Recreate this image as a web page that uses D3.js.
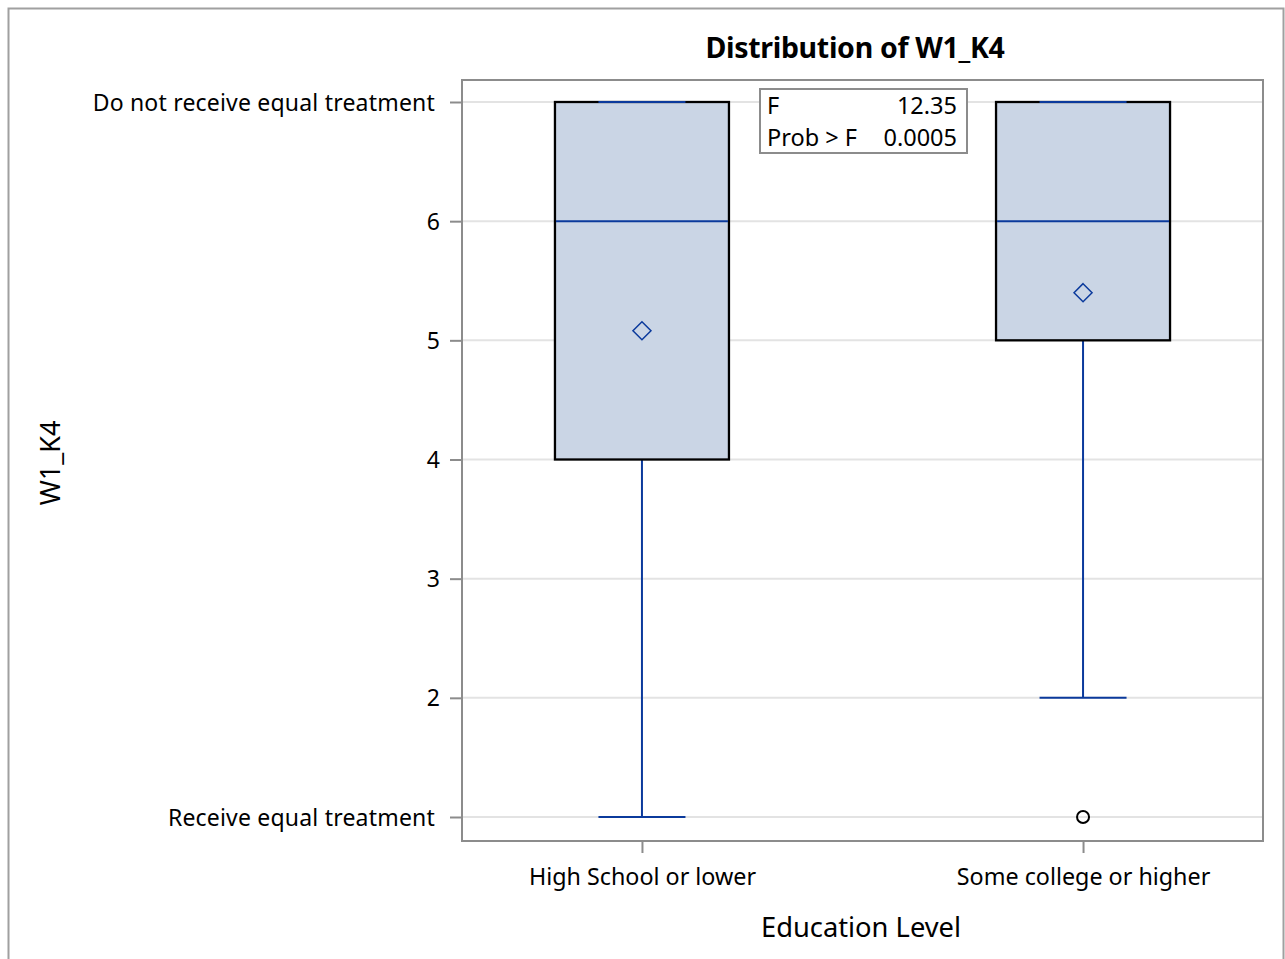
<!DOCTYPE html>
<html><head><meta charset="utf-8">
<script src="https://cdn.jsdelivr.net/npm/d3@7"></script>
<style>body{margin:0;background:#fff}svg{display:block;font-family:"Noto Sans",sans-serif}</style>
</head><body>
<svg id="c" width="1285" height="959"></svg>
<script>
const categories = ["High School or lower", "Some college or higher"];
const q1 = [4, 5];
const median = [6, 6];
const q3 = [7, 7];
const whiskerLow = [1, 2];
const whiskerHigh = [7, 7];
const means = [5.08, 5.40];
const outliers = [[], [1]];
const yTicks = [1, 2, 3, 4, 5, 6, 7];
const yTickLabels = {1: "Receive equal treatment", 7: "Do not receive equal treatment"};
const statLabels = ["F", "Prob > F"];
const statValues = ["12.35", "0.0005"];

const svg = d3.select("#c");
const L = 462, R = 1263, T = 80, B = 841;
const blue = "#0b3a9c", fill = "#cad5e5", frame = "#8c8c8c";

svg.append("rect").attr("x", 8.5).attr("y", 8.5).attr("width", 1275).attr("height", 960)
  .attr("fill", "none").attr("stroke", "#a0a0a0").attr("stroke-width", 2);

const x = d3.scalePoint().domain(categories).range([L, R]).padding(0.408);
const y = d3.scaleLinear().domain([1, 7]).range([817, 102]);

// gridlines
svg.append("g").selectAll("line").data(yTicks).join("line")
  .attr("x1", L).attr("x2", R).attr("y1", d => y(d)).attr("y2", d => y(d))
  .attr("stroke", "#e3e3e3").attr("stroke-width", 2);

const yAxis = svg.append("g").attr("transform", `translate(${L},0)`)
  .call(d3.axisLeft(y).tickValues(yTicks).tickSize(12).tickPadding(10)
    .tickFormat(d => yTickLabels[d] || d));
yAxis.select(".domain").remove();
yAxis.selectAll(".tick line").attr("stroke", frame).attr("stroke-width", 2);
yAxis.selectAll(".tick text").attr("font-size", 23).attr("fill", "#000")
  .attr("font-family", "Noto Sans").attr("dy", "0.35em")
  .attr("dx", d => yTickLabels[d] ? -5 : 0)
  .attr("letter-spacing", d => yTickLabels[d] ? 0.2 : 0);

const xAxis = svg.append("g").attr("transform", `translate(0,${B})`)
  .call(d3.axisBottom(x).tickSize(12).tickPadding(10));
xAxis.select(".domain").remove();
xAxis.selectAll(".tick line").attr("stroke", frame).attr("stroke-width", 2);
xAxis.selectAll(".tick text").attr("font-size", 23.3).attr("fill", "#000")
  .attr("font-family", "Noto Sans").attr("dy", "0.95em");

const bw = 174;
const g = svg.append("g");
categories.forEach((c, i) => {
  const cx = x(c);
  g.append("line").attr("x1", cx).attr("x2", cx).attr("y1", y(whiskerLow[i])).attr("y2", y(q1[i]))
    .attr("stroke", blue).attr("stroke-width", 2);
  g.append("line").attr("x1", cx).attr("x2", cx).attr("y1", y(whiskerHigh[i])).attr("y2", y(q3[i]))
    .attr("stroke", blue).attr("stroke-width", 2);
  g.append("rect").attr("x", cx - bw / 2).attr("y", y(q3[i])).attr("width", bw)
    .attr("height", y(q1[i]) - y(q3[i])).attr("fill", fill).attr("stroke", "#000").attr("stroke-width", 2.3);
  g.append("line").attr("x1", cx - bw / 2 + 1).attr("x2", cx + bw / 2 - 1).attr("y1", y(median[i])).attr("y2", y(median[i]))
    .attr("stroke", blue).attr("stroke-width", 2);
  [whiskerLow[i], whiskerHigh[i]].forEach(v => {
    g.append("line").attr("x1", cx - bw / 4).attr("x2", cx + bw / 4).attr("y1", y(v)).attr("y2", y(v))
      .attr("stroke", blue).attr("stroke-width", 2);
  });
  const m = y(means[i]);
  g.append("path").attr("d", `M${cx},${m - 9}L${cx + 9},${m}L${cx},${m + 9}L${cx - 9},${m}Z`)
    .attr("fill", "none").attr("stroke", blue).attr("stroke-width", 1.5);
  outliers[i].forEach(v => {
    g.append("circle").attr("cx", cx).attr("cy", y(v)).attr("r", 6)
      .attr("fill", "none").attr("stroke", "#000").attr("stroke-width", 2);
  });
});

svg.append("rect").attr("x", L).attr("y", T).attr("width", R - L).attr("height", B - T)
  .attr("fill", "none").attr("stroke", frame).attr("stroke-width", 2);

const inset = svg.append("g");
inset.append("rect").attr("x", 760).attr("y", 89).attr("width", 207).attr("height", 64)
  .attr("fill", "#fff").attr("stroke", "#8c8c8c").attr("stroke-width", 2);
statLabels.forEach((s, i) => {
  inset.append("text").attr("x", 767).attr("y", 114 + i * 32).attr("font-size", 23.5).text(s);
  inset.append("text").attr("x", 957).attr("y", 114 + i * 32).attr("font-size", 23.5)
    .attr("text-anchor", "end").text(statValues[i]);
});

svg.append("text").attr("x", 855).attr("y", 58).attr("text-anchor", "middle")
  .attr("font-size", 28.5).attr("font-weight", "bold").attr("letter-spacing", -0.3).text("Distribution of W1_K4");
svg.append("text").attr("x", 861).attr("y", 937).attr("text-anchor", "middle")
  .attr("font-size", 27.3).text("Education Level");
svg.append("text").attr("transform", "translate(60,463) rotate(-90)").attr("text-anchor", "middle")
  .attr("font-size", 27).text("W1_K4");
</script>
</body></html>
